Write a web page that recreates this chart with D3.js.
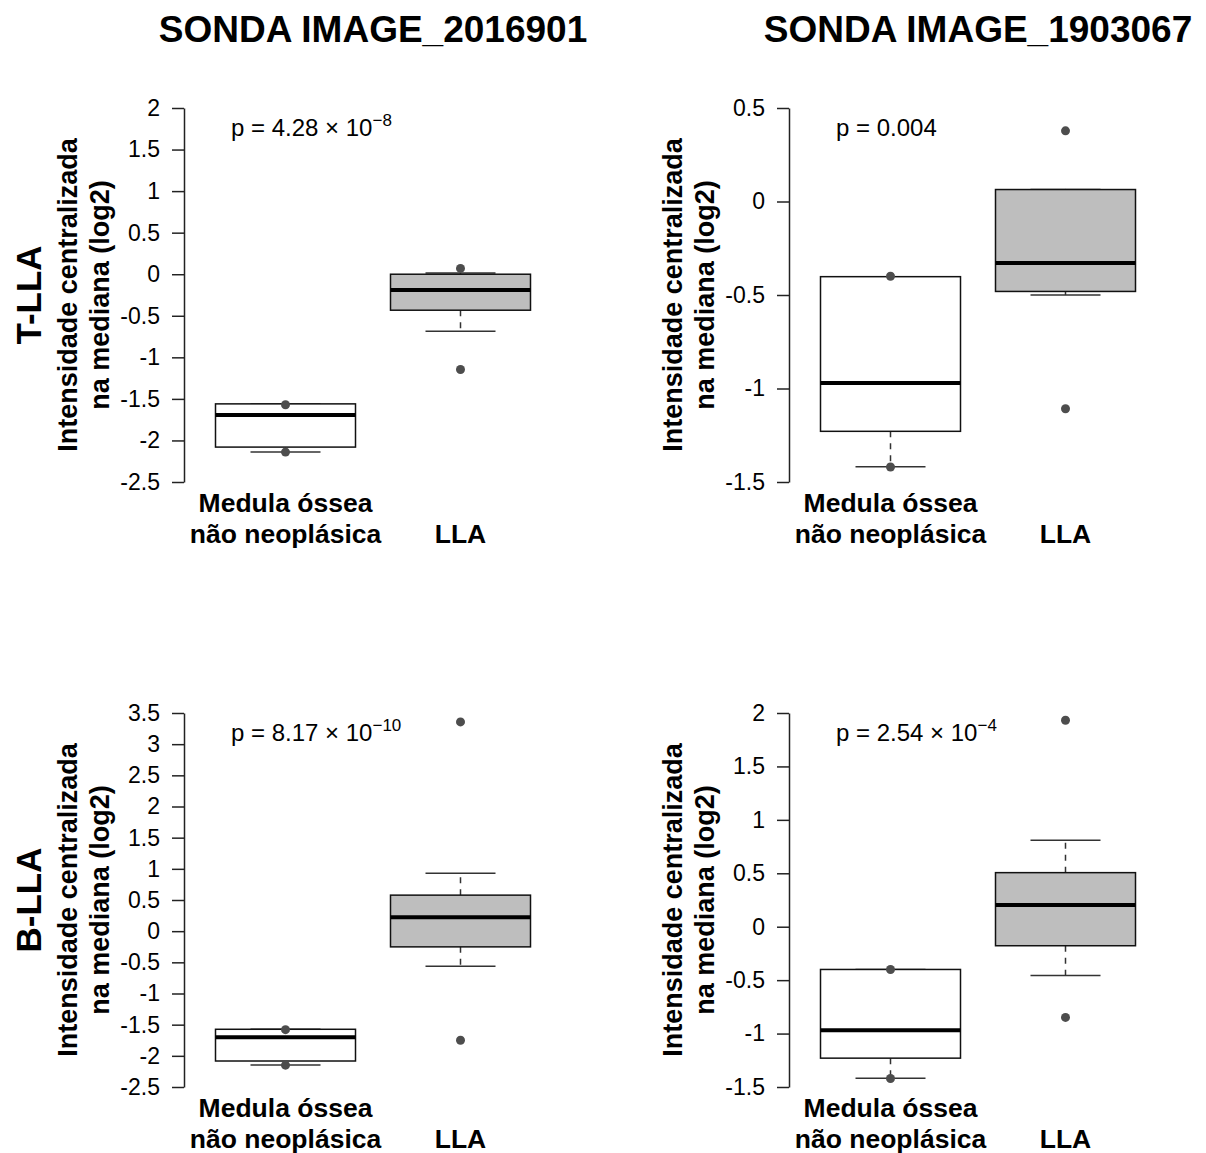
<!DOCTYPE html>
<html>
<head>
<meta charset="utf-8">
<script src="https://cdn.jsdelivr.net/npm/d3@7"></script>
<style>
  body { margin: 0; background: #fff; }
  svg { display: block; }
  text { font-family: "Liberation Sans", Arial, sans-serif; fill: #000; }
</style>
</head>
<body>
<svg id="chart" width="1206" height="1153"></svg>
<script>
// titulos e categorias
const probes = ["SONDA IMAGE_2016901", "SONDA IMAGE_1903067"];
const subtypes = ["T-LLA", "B-LLA"];
const groupLine1 = ["Medula óssea", ""];
const groupLine2 = ["não neoplásica", "LLA"];

// marcas do eixo y de cada painel
const ticksT1 = [-2.5, -2, -1.5, -1, -0.5, 0, 0.5, 1, 1.5, 2];
const ticksT2 = [-1.5, -1, -0.5, 0, 0.5];
const ticksB1 = [-2.5, -2, -1.5, -1, -0.5, 0, 0.5, 1, 1.5, 2, 2.5, 3, 3.5];
const ticksB2 = [-1.5, -1, -0.5, 0, 0.5, 1, 1.5, 2];

// [bigode inf, Q1, mediana, Q3, bigode sup] por grupo
const statsT1 = [[-2.14, -2.08, -1.695, -1.56, -1.56], [-0.685, -0.433, -0.19, 0.0, 0.016]];
const statsT2 = [[-1.418, -1.229, -0.971, -0.402, -0.402], [-0.50, -0.481, -0.329, 0.064, 0.064]];
const statsB1 = [[-2.147, -2.083, -1.70, -1.574, -1.574], [-0.562, -0.252, 0.225, 0.578, 0.931]];
const statsB2 = [[-1.417, -1.23, -0.968, -0.40, -0.40], [-0.456, -0.178, 0.203, 0.506, 0.808]];

// pontos desenhados
const pointsT1 = [[-1.57, -2.14], [0.07, -1.146]];
const pointsT2 = [[-0.40, -1.42], [0.378, -1.108]];
const pointsB1 = [[-1.58, -2.15], [3.357, -1.75]];
const pointsB2 = [[-0.40, -1.42], [1.932, -0.849]];

// valores p: [mantissa, expoente]
const pT1 = ["4.28", "−8"];
const pT2 = ["0.004", null];
const pB1 = ["8.17", "−10"];
const pB2 = ["2.54", "−4"];

const boxFills = ["#ffffff", "#bebebe"];

const svg = d3.select("#chart");
const colX = [184, 789];
const rowY = [[482, 108], [1087, 713]];
const plotW = 378;

const panels = [
  {row: 0, col: 0, ticks: ticksT1, stats: statsT1, points: pointsT1, p: pT1},
  {row: 0, col: 1, ticks: ticksT2, stats: statsT2, points: pointsT2, p: pT2},
  {row: 1, col: 0, ticks: ticksB1, stats: statsB1, points: pointsB1, p: pB1},
  {row: 1, col: 1, ticks: ticksB2, stats: statsB2, points: pointsB2, p: pB2},
];

// titulos das colunas
probes.forEach((t, i) => {
  svg.append("text")
    .attr("x", colX[i] + plotW / 2)
    .attr("y", 42)
    .attr("text-anchor", "middle")
    .style("font-size", "37px")
    .style("font-weight", "bold")
    .text(t);
});

// rotulos das linhas
subtypes.forEach((t, i) => {
  const cy = (rowY[i][0] + rowY[i][1]) / 2;
  svg.append("text")
    .attr("transform", `translate(28,${cy}) rotate(-90)`)
    .attr("text-anchor", "middle")
    .attr("dominant-baseline", "central")
    .style("font-size", "35px")
    .style("font-weight", "bold")
    .text(t);
});

panels.forEach(drawPanel);

function drawPanel(p) {
  const ax = colX[p.col];
  const [yBot, yTop] = rowY[p.row];
  const g = svg.append("g");

  const x = d3.scaleLinear().domain([0.42, 2.58]).range([ax, ax + plotW]);
  const y = d3.scaleLinear()
    .domain([p.ticks[0], p.ticks[p.ticks.length - 1]])
    .range([yBot, yTop]);

  // eixo y
  const axis = g.append("g")
    .attr("transform", `translate(${ax},0)`)
    .call(d3.axisLeft(y)
      .tickValues(p.ticks)
      .tickSize(12)
      .tickSizeOuter(0)
      .tickPadding(12)
      .tickFormat((d) => String(d)));
  axis.select(".domain").attr("stroke", "#222").attr("stroke-width", 1.5);
  axis.selectAll(".tick line").attr("stroke", "#222").attr("stroke-width", 1.5);
  axis.selectAll(".tick text")
    .attr("fill", "#000")
    .style("font-size", "23px")
    .style("font-family", '"Liberation Sans", Arial, sans-serif');

  // titulo do eixo y
  const cy = (yBot + yTop) / 2;
  [["Intensidade centralizada", 116], ["na mediana (log2)", 84]].forEach(([t, off]) => {
    g.append("text")
      .attr("transform", `translate(${ax - off},${cy}) rotate(-90)`)
      .attr("text-anchor", "middle")
      .attr("dominant-baseline", "central")
      .style("font-size", "27px")
      .style("font-weight", "bold")
      .text(t);
  });

  // caixas
  p.stats.forEach((s, i) => {
    const c = i + 1;
    const cx = x(c);
    const [lw, q1, med, q3, uw] = s;

    // bigodes tracejados
    [[q3, uw], [q1, lw]].forEach(([a, b]) => {
      g.append("line")
        .attr("x1", cx).attr("x2", cx)
        .attr("y1", y(a)).attr("y2", y(b))
        .attr("stroke", "#333").attr("stroke-width", 1.5)
        .attr("stroke-dasharray", "6,6");
    });
    [uw, lw].forEach((v) => {
      g.append("line")
        .attr("x1", x(c - 0.2)).attr("x2", x(c + 0.2))
        .attr("y1", y(v)).attr("y2", y(v))
        .attr("stroke", "#333").attr("stroke-width", 1.5);
    });

    g.append("rect")
      .attr("x", x(c - 0.4))
      .attr("width", x(c + 0.4) - x(c - 0.4))
      .attr("y", y(q3))
      .attr("height", y(q1) - y(q3))
      .attr("fill", boxFills[i])
      .attr("stroke", "#111")
      .attr("stroke-width", 1.5);

    g.append("line")
      .attr("x1", x(c - 0.4)).attr("x2", x(c + 0.4))
      .attr("y1", y(med)).attr("y2", y(med))
      .attr("stroke", "#000").attr("stroke-width", 4);

    g.selectAll(null)
      .data(p.points[i])
      .enter()
      .append("circle")
      .attr("cx", cx)
      .attr("cy", (d) => y(d))
      .attr("r", 4.5)
      .attr("fill", "#4d4d4d");

    // rotulos das categorias
    if (groupLine1[i]) {
      g.append("text")
        .attr("x", cx).attr("y", yBot + 30)
        .attr("text-anchor", "middle")
        .style("font-size", "26.5px").style("font-weight", "bold")
        .text(groupLine1[i]);
    }
    g.append("text")
      .attr("x", cx).attr("y", yBot + 61)
      .attr("text-anchor", "middle")
      .style("font-size", "26.5px").style("font-weight", "bold")
      .text(groupLine2[i]);
  });

  // valor p
  const pt = g.append("text")
    .attr("x", ax + 47)
    .attr("y", yTop + 28)
    .style("font-size", "24px");
  if (p.p[1]) {
    pt.append("tspan").text("p = " + p.p[0] + " × 10");
    pt.append("tspan")
      .attr("dy", -10)
      .style("font-size", "17px")
      .text(p.p[1]);
  } else {
    pt.text("p = " + p.p[0]);
  }
}
</script>
</body>
</html>
